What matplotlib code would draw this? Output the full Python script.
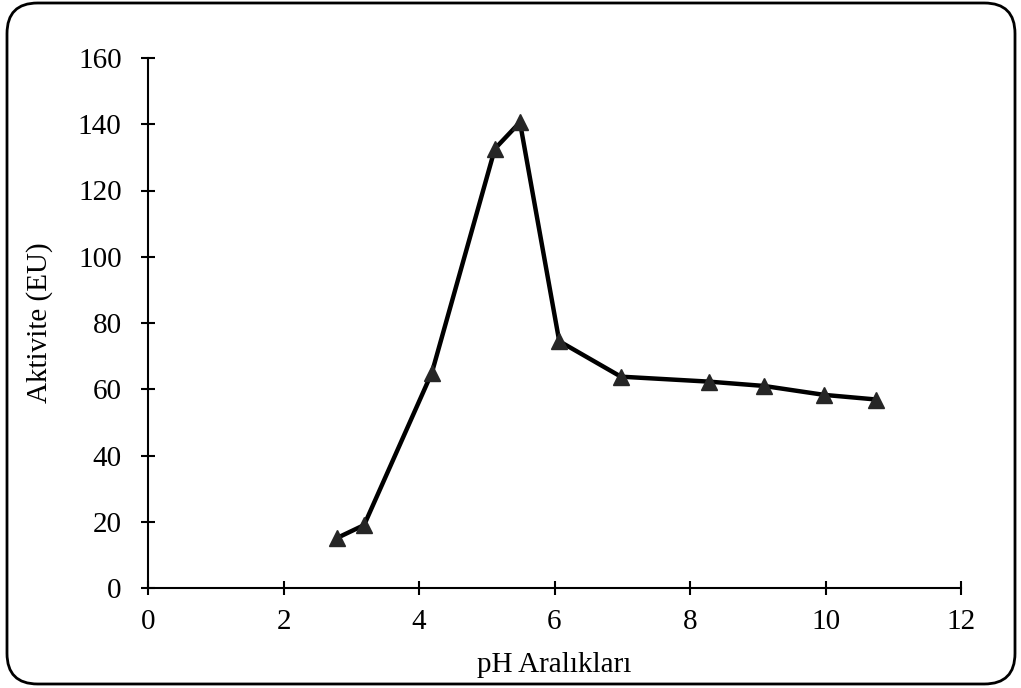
import matplotlib
matplotlib.use("Agg")
import matplotlib.pyplot as plt
from matplotlib.patches import FancyBboxPatch

ph = [2.79, 3.19, 4.19, 5.12, 5.49, 6.07, 6.98, 8.28, 9.09, 9.98, 10.75]
aktivite = [15.1, 19.0, 65.0, 132.6, 140.6, 74.5, 63.8, 62.3, 61.0, 58.3, 56.9]
xticks = [0, 2, 4, 6, 8, 10, 12]
yticks = [0, 20, 40, 60, 80, 100, 120, 140, 160]

plt.rcParams['font.family'] = ['Liberation Serif', 'DejaVu Serif']

fig = plt.figure(figsize=(10.21, 6.88), dpi=100)
ax = fig.add_axes([148/1021, 1-588/688, (961-148)/1021, (588-58)/688])

ax.plot(ph, aktivite, color='black', lw=3.2, marker='^', markersize=11,
        markerfacecolor='#262626', markeredgecolor='#262626', solid_joinstyle='miter')

ax.set_xlim(0, 12)
ax.set_ylim(0, 160)
ax.set_xticks(xticks)
ax.set_yticks(yticks)
ax.tick_params(direction='inout', length=10, width=1.5, labelsize=21)
ax.tick_params(axis='y', pad=14)
ax.tick_params(axis='x', pad=10)
for s in ['top', 'right']:
    ax.spines[s].set_visible(False)
for s in ['left', 'bottom']:
    ax.spines[s].set_linewidth(1.5)
ax.set_xlabel('pH Aralıkları', fontsize=21, labelpad=12)
ax.set_ylabel('Aktivite (EU)', fontsize=21, labelpad=18)

border = FancyBboxPatch((7/1021, 4/688), (1015-7)/1021, (685-4)/688,
                        boxstyle='round,pad=0,rounding_size=0.03',
                        transform=fig.transFigure, fill=False,
                        edgecolor='black', linewidth=2, mutation_aspect=1021/688)
fig.patches.append(border)

fig.savefig('out.png', dpi=100)
